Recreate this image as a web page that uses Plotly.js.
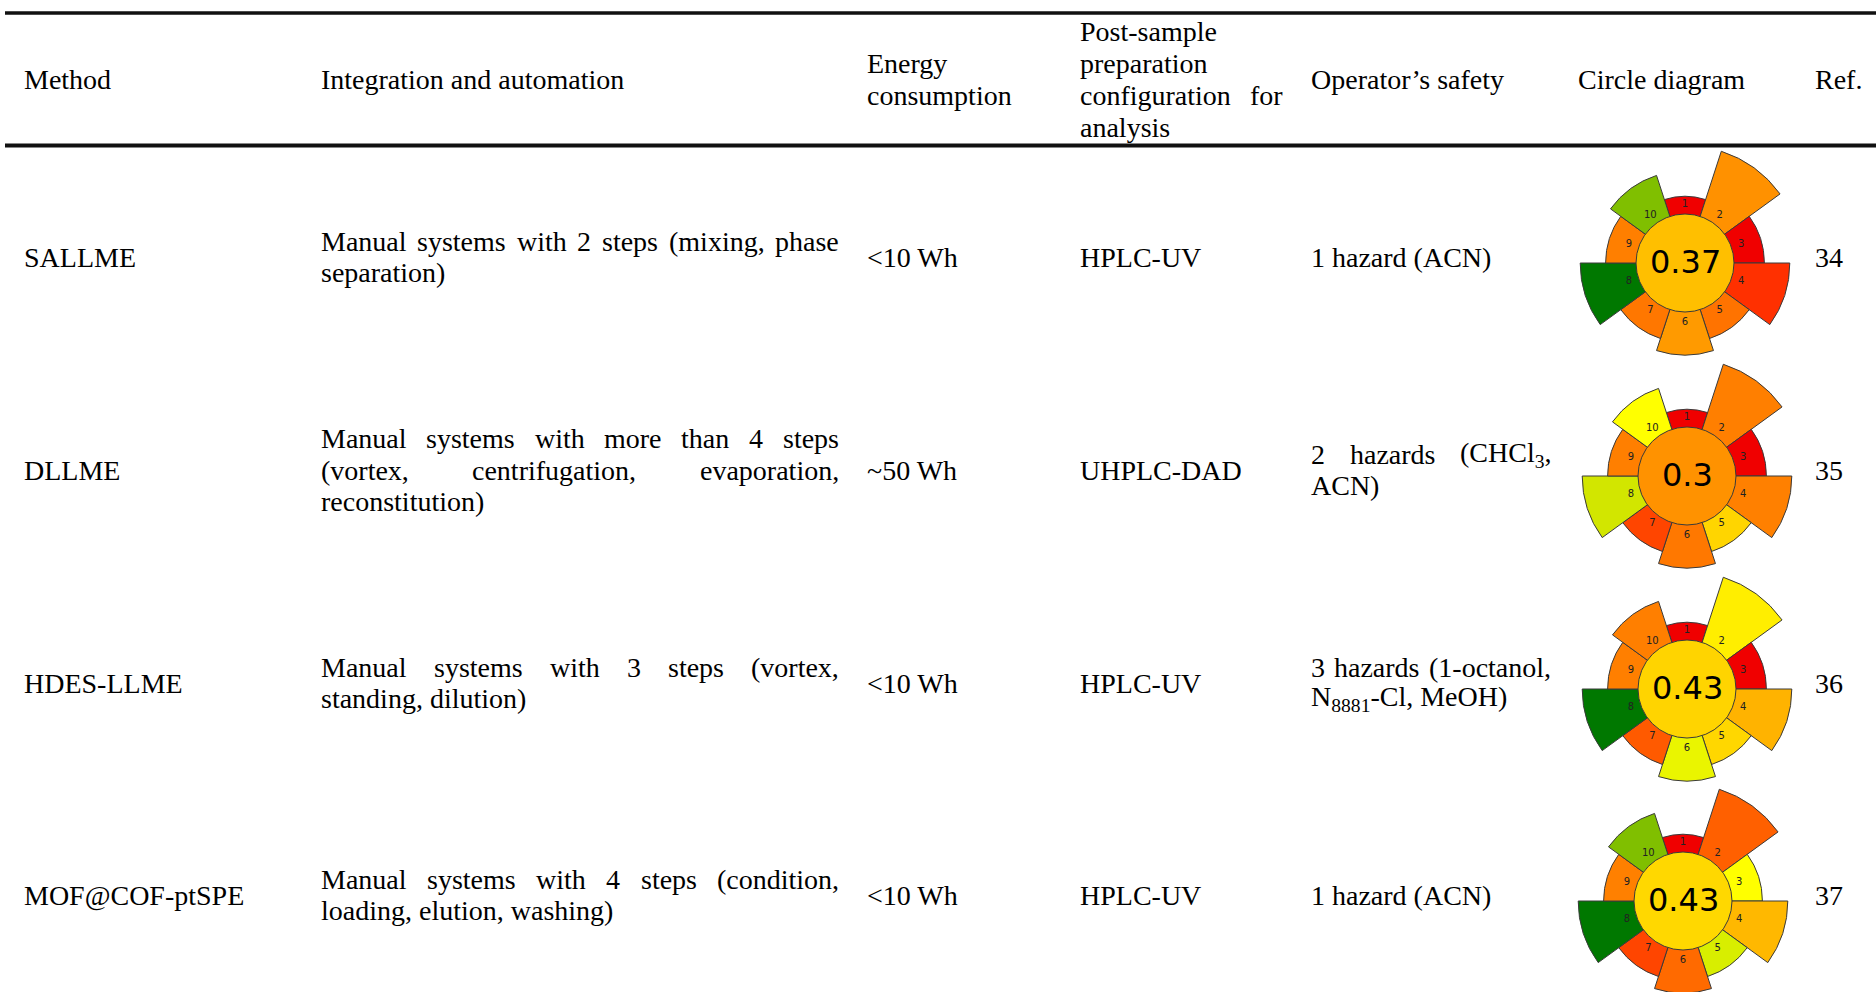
<!DOCTYPE html>
<html><head><meta charset="utf-8">
<script src="https://cdn.plot.ly/plotly-3.0.1.min.js"></script>
<style>html,body{margin:0;padding:0;overflow:hidden;background:#fff}</style>
</head><body><div id="chart"></div>
<script>
// ---------------- data ----------------
const headers = [
  ['Method'],
  ['Integration and automation'],
  ['Energy', 'consumption'],
  ['Post-sample', 'preparation', 'configuration for', 'analysis'],
  ["Operator\u2019s safety"],
  ['Circle diagram'],
  ['Ref.']
];
const methods = ['SALLME', 'DLLME', 'HDES-LLME', 'MOF@COF-ptSPE'];
const integration = [
  ['Manual systems with 2 steps (mixing, phase', 'separation)'],
  ['Manual systems with more than 4 steps', '(vortex, centrifugation, evaporation,', 'reconstitution)'],
  ['Manual systems with 3 steps (vortex,', 'standing, dilution)'],
  ['Manual systems with 4 steps (condition,', 'loading, elution, washing)']
];
const energy = ['&lt;10 Wh', '~50 Wh', '&lt;10 Wh', '&lt;10 Wh'];
const postConfig = ['HPLC-UV', 'UHPLC-DAD', 'HPLC-UV', 'HPLC-UV'];
const safety = [
  ['1 hazard (ACN)'],
  ['2 hazards (CHCl<sub>3</sub>,', 'ACN)'],
  ['3 hazards (1-octanol,', 'N<sub>8881</sub>-Cl, MeOH)'],
  ['1 hazard (ACN)']
];
const refs = ['34', '35', '36', '37'];
const totalScores = ['0.37', '0.3', '0.43', '0.43'];
const criteria = ['1', '2', '3', '4', '5', '6', '7', '8', '9', '10'];
const criteriaWeights = [1, 5, 2, 4, 2, 3, 2, 4, 2, 3];
const centerColors = ['#FFBF00', '#FF9200', '#FFD400', '#FFD800'];
const segColors = [
  ['#F00000', '#FF9100', '#F00000', '#FF3000', '#FF7300', '#FF9A00', '#FF7700', '#007800', '#FF7F00', '#80BF00'],
  ['#F00000', '#FF7F00', '#F00000', '#FF8000', '#FFD500', '#FF7800', '#FF4500', '#D2E600', '#FF7F00', '#FFFF00'],
  ['#F00000', '#FFEE00', '#F00000', '#FFB300', '#FFD700', '#EAF500', '#FF5A00', '#007800', '#FF7F00', '#FF7F00'],
  ['#F00000', '#FF6000', '#FFFF00', '#FFB800', '#D8EE00', '#FF6A00', '#FF4500', '#007800', '#FF8000', '#80BF00']
];

// ---------------- layout constants ----------------
const W = 1876, H = 1060;
const FS = 28, LH = 31.3;
const FONT = '"Liberation Serif", "Times New Roman", serif';
const colLeft = [23, 320, 866, 1079, 1310, 1577, 1814];
const colRight = [null, 838, null, 1282, 1550, null, null];
const headerY = 80;
const headerLH = 32;
const rowY = [257, 470, 683, 895];
const RR = 122, DISK = 49, LABR = 59;

const ctx = document.createElement('canvas').getContext('2d');
function textWidth(s, size) {
  s = s.replace(/&lt;/g, '<').replace(/&gt;/g, '>').replace(/&amp;/g, '&');
  let w = 0, last = 0, m;
  const re = /<sub>(.*?)<\/sub>/g;
  while ((m = re.exec(s))) {
    ctx.font = size + 'px "Liberation Serif"';
    w += ctx.measureText(s.slice(last, m.index)).width;
    ctx.font = (size * 0.7) + 'px "Liberation Serif"';
    w += ctx.measureText(m[1]).width;
    last = re.lastIndex;
  }
  ctx.font = size + 'px "Liberation Serif"';
  w += ctx.measureText(s.slice(last)).width;
  return w;
}

const annotations = [];
const shapes = [];
function addText(txt, x, y) {
  annotations.push({
    text: txt, x: x / W, y: 1 - y / H, xref: 'paper', yref: 'paper',
    xanchor: 'left', yanchor: 'middle', showarrow: false, borderpad: 0,
    font: { family: FONT, size: FS, color: '#000' }
  });
}
function addCell(lines, left, right, yc, lh) {
  lh = lh || LH;
  const n = lines.length;
  lines.forEach((ln, i) => {
    const y = yc + (i - (n - 1) / 2) * lh;
    const words = ln.split(' ');
    if (right && i < n - 1 && words.length > 1) {
      const ws = words.map(w => textWidth(w, FS));
      const gap = (right - left - ws.reduce((a, b) => a + b, 0)) / (words.length - 1);
      let x = left;
      words.forEach((w, j) => { addText(w, x, y); x += ws[j] + gap; });
    } else {
      addText(ln, left, y);
    }
  });
}

// header
headers.forEach((h, c) => addCell(h, colLeft[c], colRight[c], headerY, headerLH));
// rows
methods.forEach((m, r) => {
  const y = rowY[r];
  addCell([m], colLeft[0], null, y);
  addCell(integration[r], colLeft[1], colRight[1], y);
  addCell([energy[r]], colLeft[2], null, y);
  addCell([postConfig[r]], colLeft[3], null, y);
  addCell(safety[r], colLeft[4], colRight[4], y);
  addCell([refs[r]], colLeft[6], null, y);
});

// rules
[[13, 3.5], [145.5, 4]].forEach(([y, w]) => {
  shapes.push({ type: 'line', xref: 'paper', yref: 'paper', x0: 5 / W, x1: 1, y0: 1 - y / H, y1: 1 - y / H,
    line: { color: '#111', width: w } });
});

// circle diagrams
const traces = [];
const layout = {
  width: W, height: H, margin: { l: 0, r: 0, t: 0, b: 0 },
  paper_bgcolor: '#fff', plot_bgcolor: '#fff', showlegend: false,
  annotations: annotations, shapes: shapes
};
const thetas = criteria.map((_, k) => k * 36);
const segR = criteriaWeights.map(w => 54 + 12.7 * w);
const diagX = [1685, 1687, 1687, 1683];
methods.forEach((m, i) => {
  const pk = i === 0 ? 'polar' : 'polar' + (i + 1);
  const cx = diagX[i], cy = rowY[i] + 6;
  layout[pk] = {
    domain: { x: [(cx - RR) / W, (cx + RR) / W], y: [1 - (cy + RR) / H, 1 - (cy - RR) / H] },
    bgcolor: 'rgba(0,0,0,0)',
    radialaxis: { visible: false, range: [0, RR] },
    angularaxis: { visible: false, rotation: 90, direction: 'clockwise' }
  };
  traces.push({
    type: 'barpolar', subplot: pk, r: segR, theta: thetas, width: criteria.map(() => 36),
    marker: { color: segColors[i], line: { color: '#3a3a3a', width: 1 } },
    hoverinfo: 'skip', showlegend: false
  });
  traces.push({
    type: 'scatterpolar', subplot: pk, mode: 'text', r: criteria.map(() => LABR), theta: thetas,
    text: criteria, textfont: { family: 'DejaVu Sans', size: 10, color: '#222' },
    hoverinfo: 'skip', showlegend: false
  });
  shapes.push({
    type: 'circle', xref: 'paper', yref: 'paper', layer: 'above',
    x0: (cx - DISK) / W, x1: (cx + DISK) / W, y0: 1 - (cy + DISK) / H, y1: 1 - (cy - DISK) / H,
    fillcolor: centerColors[i], line: { color: '#3a3a3a', width: 1 }
  });
  annotations.push({
    text: totalScores[i], x: cx / W, y: 1 - (cy - 1) / H, xref: 'paper', yref: 'paper',
    xanchor: 'center', yanchor: 'middle', showarrow: false,
    font: { family: 'DejaVu Sans', size: 32, color: '#000' }
  });
});

Plotly.newPlot('chart', traces, layout, { staticPlot: true, displayModeBar: false });
</script>
</body></html>
